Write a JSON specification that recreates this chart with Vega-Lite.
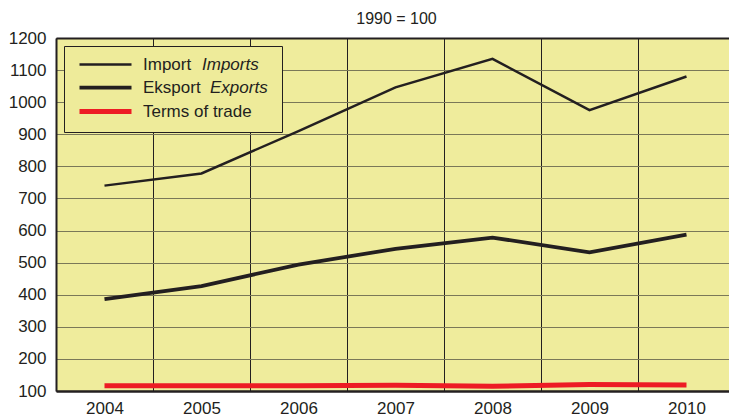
{
  "$schema": "https://vega.github.io/schema/vega-lite/v6.json",
  "autosize": {"type": "none"},
  "padding": {"left": 56, "top": 38, "right": 0, "bottom": 25},
  "width": 673,
  "height": 353,
  "background": "white",
  "title": {"text": "1990 = 100", "fontSize": 16, "font": "Liberation Sans", "fontWeight": "normal", "color": "#231f20", "offset": 2, "anchor": "middle", "dx": 4},
  "config": {
    "view": {"fill": "#EFEC9C", "stroke": null},
    "axis": {"labelFont": "Liberation Sans", "labelFontSize": 17, "labelColor": "#231f20", "ticks": false, "title": null}
  },
  "data": {"values": [
    {"series": "Import", "italic": "Imports", "year": "2004", "value": 740},
    {"series": "Import", "italic": "Imports", "year": "2005", "value": 778},
    {"series": "Import", "italic": "Imports", "year": "2006", "value": 910},
    {"series": "Import", "italic": "Imports", "year": "2007", "value": 1046},
    {"series": "Import", "italic": "Imports", "year": "2008", "value": 1135},
    {"series": "Import", "italic": "Imports", "year": "2009", "value": 975},
    {"series": "Import", "italic": "Imports", "year": "2010", "value": 1080},
    {"series": "Eksport", "italic": "Exports", "year": "2004", "value": 386},
    {"series": "Eksport", "italic": "Exports", "year": "2005", "value": 427},
    {"series": "Eksport", "italic": "Exports", "year": "2006", "value": 494},
    {"series": "Eksport", "italic": "Exports", "year": "2007", "value": 543},
    {"series": "Eksport", "italic": "Exports", "year": "2008", "value": 578},
    {"series": "Eksport", "italic": "Exports", "year": "2009", "value": 532},
    {"series": "Eksport", "italic": "Exports", "year": "2010", "value": 587},
    {"series": "Terms of trade", "italic": "-", "year": "2004", "value": 116},
    {"series": "Terms of trade", "italic": "-", "year": "2005", "value": 116},
    {"series": "Terms of trade", "italic": "-", "year": "2006", "value": 116},
    {"series": "Terms of trade", "italic": "-", "year": "2007", "value": 118},
    {"series": "Terms of trade", "italic": "-", "year": "2008", "value": 115},
    {"series": "Terms of trade", "italic": "-", "year": "2009", "value": 120},
    {"series": "Terms of trade", "italic": "-", "year": "2010", "value": 119}
  ]},
  "mark": {"type": "line", "strokeCap": "butt", "strokeJoin": "miter"},
  "encoding": {
    "x": {
      "field": "year", "type": "ordinal",
      "scale": {"type": "band", "range": [0, 679], "paddingInner": 0, "paddingOuter": 0},
      "axis": {"labelAngle": 0, "grid": true, "tickBand": "extent", "gridColor": "#231f20", "gridWidth": 1, "gridOpacity": 1, "domainColor": "#231f20", "domainWidth": 2.5, "labelPadding": 9}
    },
    "y": {
      "field": "value", "type": "quantitative",
      "scale": {"domain": [100, 1200], "nice": false, "zero": false},
      "axis": {"values": [100, 200, 300, 400, 500, 600, 700, 800, 900, 1000, 1100, 1200], "format": "d", "grid": true,
        "gridColor": {"condition": {"test": "datum.value === 1200", "value": "#231f20"}, "value": "#7a7858"},
        "gridWidth": {"condition": {"test": "datum.value === 1200", "value": 2}, "value": 1},
        "gridOpacity": 1, "domainColor": "#231f20", "domainWidth": 2, "labelPadding": 10}
    },
    "color": {
      "field": "series", "type": "nominal",
      "scale": {"domain": ["Import", "Eksport", "Terms of trade"], "range": ["#231f20", "#231f20", "#ed1c24"]},
      "legend": {
        "title": "|", "titleOrient": "right", "titleColor": "transparent", "titleFontSize": 4, "titlePadding": 18,
        "orient": "top-left", "offset": 8,
        "labelFont": "Liberation Sans", "labelFontSize": 17, "labelColor": "#231f20",
        "symbolType": "M-5.2,0H5.2", "symbolSize": 100, "symbolOffset": 23, "labelOffset": 29,
        "fillColor": "#EEEB9A", "strokeColor": "#231f20", "padding": 10, "rowPadding": 5
      }
    },
    "opacity": {
      "field": "italic", "type": "nominal",
      "scale": {"domain": ["Imports", "Exports", "-"], "range": [1, 1, 1]},
      "legend": {
        "title": null, "orient": "none", "legendX": 18, "legendY": 18,
        "labelExpr": "datum.value === '-' ? '' : datum.value",
        "labelFont": "Liberation Sans", "labelFontSize": 17, "labelFontStyle": "italic", "labelColor": "#231f20",
        "symbolType": "circle", "symbolSize": 100, "symbolOpacity": 0, "symbolStrokeWidth": 0, "symbolOffset": 0, "labelOffset": 111,
        "padding": 0, "rowPadding": 5,
        "encode": {"labels": {"update": {"dx": {"signal": "datum.value === 'Exports' ? 8 : 0"}}}}
      }
    },
    "strokeWidth": {
      "field": "series", "type": "nominal",
      "scale": {"domain": ["Import", "Eksport", "Terms of trade"], "range": [2.5, 5, 6]},
      "legend": null
    }
  }
}
